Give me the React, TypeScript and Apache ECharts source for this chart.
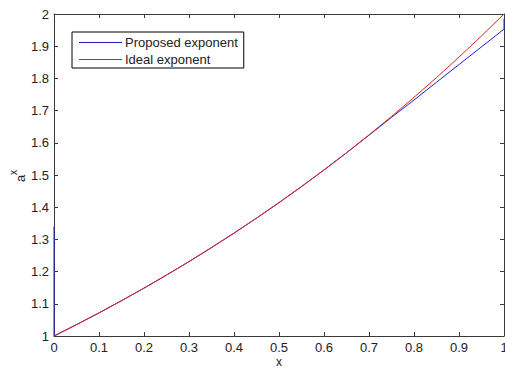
import React, { useEffect, useRef } from "react";
import * as echarts from "echarts";

const xValues = [0, 0.05, 0.1, 0.15, 0.2, 0.25, 0.3, 0.35, 0.4, 0.45, 0.5, 0.55, 0.6, 0.65, 0.7, 0.75, 0.8, 0.85, 0.9, 0.95, 1];
const idealValues = [1, 1.0353, 1.0718, 1.1096, 1.1487, 1.1892, 1.2311, 1.2746, 1.3195, 1.366, 1.4142, 1.4641, 1.5157, 1.5692, 1.6245, 1.6818, 1.7411, 1.8025, 1.8661, 1.9319, 2];
const proposedValues = [1, 1.0353, 1.0718, 1.1096, 1.1487, 1.1892, 1.2311, 1.2746, 1.3195, 1.366, 1.4142, 1.4641, 1.5157, 1.5688, 1.6236, 1.679, 1.733, 1.788, 1.843, 1.898, 1.953];
const proposedStart = [[0, 1.34]];
const proposedEnd = [[1, 1.985]];
const seriesNames = ["Proposed exponent", "Ideal exponent"];

const fmt = (v: number) => String(+v.toFixed(1));

export default function App() {
  const ref = useRef<HTMLDivElement>(null);
  useEffect(() => {
    if (!ref.current) return;
    const chart = echarts.init(ref.current, null, { renderer: "svg" });
    const proposed = [
      ...proposedStart,
      ...xValues.map((x, i) => [x, proposedValues[i]]),
      ...proposedEnd,
    ];
    const ideal = xValues.map((x, i) => [x, idealValues[i]]);
    const axisColor = "#3a3a3a";
    const font = "Liberation Sans, Arial, sans-serif";
    const labelStyle = { color: "#222", fontSize: 13, fontFamily: font };
    const xBase = {
      type: "value" as const,
      min: 0,
      max: 1,
      interval: 0.1,
      axisLine: { show: true, onZero: false, lineStyle: { color: axisColor, width: 1 } },
      axisTick: { show: true, inside: true, length: 4, lineStyle: { color: axisColor } },
      splitLine: { show: false },
    };
    const yBase = {
      type: "value" as const,
      min: 1,
      max: 2,
      interval: 0.1,
      axisLine: { show: true, onZero: false, lineStyle: { color: axisColor, width: 1 } },
      axisTick: { show: true, inside: true, length: 4, lineStyle: { color: axisColor } },
      splitLine: { show: false },
    };
    chart.setOption({
      animation: false,
      backgroundColor: "#ffffff",
      grid: { left: 54, right: 1, top: 14, bottom: 32, containLabel: false, outerBoundsMode: "none" },
      xAxis: [
        {
          ...xBase,
          position: "bottom",
          axisLabel: { ...labelStyle, margin: 5, formatter: fmt },
          name: "x",
          nameLocation: "middle",
          nameGap: 20,
          nameMoveOverlap: false,
          nameTextStyle: { ...labelStyle, fontSize: 12 },
        },
        { ...xBase, position: "top", axisLabel: { show: false } },
      ],
      yAxis: [
        {
          ...yBase,
          position: "left",
          axisLabel: { ...labelStyle, margin: 5, formatter: fmt },
        },
        { ...yBase, position: "right", axisLabel: { show: false } },
      ],
      legend: {
        show: true,
        orient: "vertical",
        left: 72,
        top: 32,
        borderColor: "#000",
        borderWidth: 1,
        backgroundColor: "#fff",
        padding: [4, 6, 2, 7],
        itemWidth: 43,
        itemHeight: 1,
        itemGap: 4,
        icon: "rect",
        data: seriesNames,
        textStyle: { ...labelStyle, padding: [0, 0, 0, -2] },
      },
      graphic: [
        {
          type: "group",
          x: 21,
          y: 178,
          rotation: Math.PI / 2,
          children: [
            { type: "text", x: -4, y: -7, style: { text: "a", fontSize: 13, fill: "#222", fontFamily: font } },
            { type: "text", x: 3, y: -13, style: { text: "x", fontSize: 10, fill: "#222", fontFamily: font } },
          ],
        },
      ],
      series: [
        {
          name: seriesNames[0],
          type: "line",
          data: proposed,
          symbol: "none",
          color: "#2020c8",
          lineStyle: { width: 1, color: "#2020c8" },
          z: 2,
        },
        {
          name: seriesNames[1],
          type: "line",
          data: ideal,
          symbol: "none",
          color: "#e02020",
          lineStyle: { width: 1, color: "#e02020" },
          z: 3,
        },
      ],
    });
    return () => chart.dispose();
  }, []);
  return <div ref={ref} style={{ width: 505, height: 368, position: "absolute", left: 0, top: 0 }} />;
}
